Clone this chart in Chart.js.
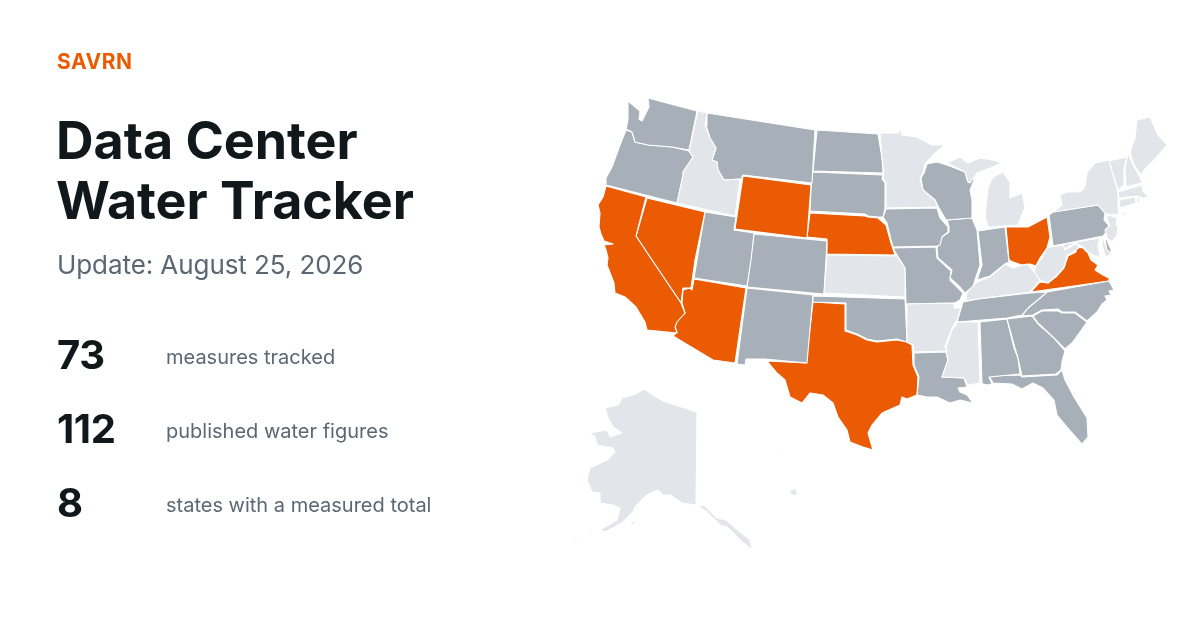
<!DOCTYPE html>
<html>
<head>
<meta charset="utf-8">
<title>Data Center Water Tracker</title>
<script src="https://cdn.jsdelivr.net/npm/chart.js@4"></script>
<style>
  html, body { margin: 0; padding: 0; background: #fff; }
  body { width: 1200px; height: 630px; overflow: hidden; position: relative; font-family: Inter, sans-serif; }
  #map { position: absolute; left: 0; top: 0; }
  .t { position: absolute; left: 57px; white-space: nowrap; }
  .brand { top: 50px; font-size: 21px; line-height: 24px; font-weight: 700; color: #ea5b04; letter-spacing: 0.5px; }
  .title { left: 56px; top: 111px; font-size: 52px; line-height: 60px; font-weight: 700; color: #11181c; letter-spacing: -0.03px; }
  .sub { top: 249px; font-size: 26px; line-height: 32px; color: #5b6773; letter-spacing: -0.08px; }
  .num { font-size: 40px; line-height: 48px; font-weight: 700; color: #11181c; letter-spacing: -0.4px; }
  .lab { left: 166px; font-size: 20px; line-height: 24px; color: #5b6773; }
</style>
</head>
<body>
<canvas id="map" width="1200" height="630"></canvas>
<div class="t brand">SAVRN</div>
<div class="t title">Data Center<br>Water Tracker</div>
<div class="t sub">Update: August 25, 2026</div>
<div class="t num" style="top:331px">73</div>
<div class="t lab" style="top:345px">measures tracked</div>
<div class="t num" style="top:405px">112</div>
<div class="t lab" style="top:419px">published water figures</div>
<div class="t num" style="top:479px">8</div>
<div class="t lab" style="top:493px">states with a measured total</div>
<script>
// state outlines, in map units (x, y)
const WA = [628,101,640,111,639,119,642,121,645,115,649,107,648,98,697,111,689,150,672,147,660,146,648,145,635,142,632,132,626,129,628,120];
const OR = [626,130,632,132,635,142,648,145,672,147,689,151,693,157,683,172,683,176,677,203,606,185,606,178,612,167,620,145];
const CA = [606,186,646,197,636,236,652,260,681,303,685,313,677,322,675,327,677,333,647,330,645,322,636,307,625,297,615,293,614,283,607,265,608,258,606,250,604,245,613,244,604,241,601,234,599,227,600,213,598,205,603,197];
const NV = [647,198,705,212,695,260,691,288,683,288,681,303,652,260,636,236];
const AZ = [694,279,746,288,735,363,713,360,673,336,677,332,675,327,677,320,685,313,682,303,683,290,690,288,692,290];
const UT = [705,212,736,217,734,230,754,233,751,260,747,286,694,278];
const WY = [743,176,811,185,807,238,735,229];
const ID = [698,111,707,113,705,125,710,138,716,148,712,160,717,162,718,170,724,180,740,179,735,216,677,203,683,175,683,172,693,157,689,151];
const MT = [707,113,815,130,812,183,743,175,741,179,724,180,718,170,717,162,712,160,716,148,710,138,706,125];
const CO = [754,234,827,241,824,294,747,287];
const NM = [747,288,813,295,807,363,765,359,746,359,745,365,737,364];
const TX = [813,302,845,304,845,331,857,335,867,340,877,342,897,340,907,342,912,345,913,365,918,377,917,395,907,399,902,397,900,405,882,413,872,425,868,433,873,450,863,447,850,442,847,430,838,417,833,403,823,395,810,393,802,403,790,397,785,380,777,373,767,361,806,363];
const OK = [813,296,905,299,907,342,897,339,877,341,867,339,857,334,846,330,846,303,813,302];
const KS = [827,255,897,256,901,262,905,268,905,297,824,293];
const NE = [810,213,865,216,868,217,878,218,886,225,891,243,895,255,827,254,827,239,807,237];
const SD = [812,172,883,175,882,179,885,183,885,208,883,217,878,217,868,216,865,214,810,211];
const ND = [817,130,878,134,882,158,883,173,813,171];
const MN = [880,133,898,133,900,128,902,135,917,137,932,145,945,145,933,155,925,164,923,173,920,178,923,190,935,200,938,207,886,208,886,183,883,178,884,173,882,158];
const IA = [886,209,937,208,940,218,948,227,948,232,942,237,940,245,937,246,893,247,891,240,887,223,883,217];
const WI = [927,164,937,162,947,165,965,172,968,182,975,178,970,190,972,200,972,218,946,220,939,208,935,200,923,190,921,178,924,173];
const IL = [947,220,972,218,977,230,980,265,975,280,973,287,965,293,960,287,950,278,952,270,938,258,937,248,942,237,949,232,949,227];
const MO = [893,248,936,247,937,258,951,271,950,280,963,293,960,300,955,303,906,304,905,268,897,255];
const AR = [907,304,955,303,954,308,961,308,957,320,952,328,945,347,947,351,914,352,913,345,907,342];
const LA = [914,353,946,352,948,360,942,377,964,378,967,387,958,388,960,392,967,395,973,403,960,400,950,403,937,397,927,397,917,395,919,377,914,365];
const MS = [958,322,978,322,980,383,968,385,964,378,942,377,948,360,946,352,946,347,952,330];
const AL = [980,322,1007,319,1014,348,1018,358,1020,374,989,377,992,384,987,385,983,384,982,383];
const TN = [957,322,963,302,978,299,1030,293,1047,292,1040,298,1028,308,1022,315,1007,318];
const KY = [967,292,977,282,990,277,1005,264,1013,268,1027,264,1034,272,1040,280,1030,292,977,299,966,301];
const IN = [978,231,1005,227,1009,262,1005,264,990,276,977,280,982,265];
const OH = [1006,227,1023,227,1028,227,1047,217,1050,237,1047,248,1040,258,1036,266,1030,264,1022,265,1013,262,1009,260];
const MI = [988,187,993,177,1003,172,1010,182,1010,198,1022,193,1025,207,1018,225,988,227,985,217];
const MI_UP = [947,163,960,157,968,163,980,158,993,160,1002,163,990,168,977,173,970,183,968,182,965,172];
const PA = [1049,215,1053,212,1098,205,1105,213,1104,220,1110,227,1103,236,1053,246];
const WV = [1050,247,1063,245,1065,250,1075,244,1080,247,1073,252,1067,255,1064,267,1057,275,1048,283,1040,280,1034,272,1036,266,1042,258,1047,248];
const VA = [1031,292,1040,282,1048,283,1057,276,1064,268,1068,256,1076,252,1077,247,1083,248,1088,253,1091,260,1098,265,1095,270,1103,275,1109,278,1109,281];
const VA_SHORE = [1109,262,1110,263,1108,268,1107,268];
const MD = [1053,246,1100,238,1098,246,1100,256,1095,256,1088,252,1082,246,1075,243,1065,249,1063,245];
const MD_SHORE = [1103,237,1107,250,1112,253,1106,258,1102,245];
const DE = [1105,238,1107,240,1109,245,1112,252,1107,252];
const NJ = [1108,215,1117,218,1116,225,1118,227,1117,235,1112,242,1107,238,1105,230,1110,225,1107,220];
const NY = [1053,212,1062,205,1060,195,1067,192,1080,192,1085,187,1087,173,1095,163,1109,160,1113,175,1118,192,1118,208,1119,214,1111,215,1105,213,1098,205];
const LI = [1118,217,1132,208,1125,215];
const VT = [1109,161,1127,157,1124,168,1124,185,1118,190,1114,177];
const NH = [1128,153,1133,165,1140,177,1142,183,1126,187,1125,168];
const ME = [1130,152,1135,138,1137,120,1150,117,1158,135,1167,145,1160,153,1152,162,1144,170,1141,175,1133,163];
const MA = [1118,192,1142,185,1143,191,1149,197,1143,198,1137,196,1119,198];
const CT = [1119,200,1135,197,1136,203,1120,208];
const RI = [1137,197,1139,197,1140,202,1137,203];
const NC = [1047,292,1109,281,1114,290,1109,291,1111,295,1105,296,1107,300,1102,304,1097,312,1087,321,1075,312,1062,312,1058,309,1042,310,1033,315,1022,316,1028,308,1040,298];
const SC = [1033,316,1042,311,1058,311,1062,313,1075,313,1087,322,1080,332,1072,343,1065,349,1053,337,1038,323];
const GA = [1007,319,1032,316,1038,324,1053,337,1065,351,1062,362,1061,370,1056,374,1022,376,1018,358,1015,348];
const FL = [989,376,1020,375,1022,377,1057,375,1062,370,1065,380,1074,397,1087,418,1088,437,1082,444,1067,427,1057,415,1054,400,1043,388,1033,383,1022,389,1012,384,993,383];
const AK = [605,408,618,405,622,398,633,395,645,389,650,393,663,401,697,412,696,505,682,503,670,495,663,495,658,490,647,495,635,507,633,512,622,523,605,532,600,530,617,520,620,508,613,505,600,503,600,493,592,492,587,480,590,468,607,460,615,452,613,448,597,445,595,437,590,433,607,430,610,437,622,433,613,427,608,418];
const AK_PANHANDLE = [696,505,705,506,717,518,726,520,738,530,750,540,752,550,740,540,727,527,720,525,707,512];
const AK_ISLES_A = [573,537,580,535,576,538];
const AK_ISLES_B = [588,533,595,531,591,534];
const AK_ISLES_C = [630,523,638,520,633,525];
const AK_ISLES_D = [578,486,582,487,581,489];
const AK_ISLES_E = [568,448,574,453,573,454];
const HI_A = [789,492,795,488,798,495,792,495];
const HI_B = [781,452,783,453,782,455];
const HI_C = [787,464,789,465,788,467];
const HI_D = [795,478,797,479,796,481];

// fill groups
const measuredStates = [CA, NV, AZ, WY, NE, TX, OH, VA, VA_SHORE];
const trackedStates = [WA, OR, MT, ND, SD, UT, CO, NM, OK, IA, WI, IL, MO, IN, TN, NC, SC, GA, AL, FL, LA, PA, DE];
const otherStates = [ID, MN, KS, AR, MS, KY, WV, MI, MI_UP, NY, LI, VT, NH, ME, MA, CT, RI, NJ, MD, MD_SHORE, AK, AK_PANHANDLE, AK_ISLES_A, AK_ISLES_B, AK_ISLES_C, AK_ISLES_D, AK_ISLES_E, HI_A, HI_B, HI_C, HI_D];

function outline(flat, color) {
    const pts = [];
    for (let i = 0; i < flat.length; i += 2) pts.push({ x: flat[i], y: flat[i + 1] });
    pts.push(pts[0]);
    return {
        data: pts,
        showLine: true,
        fill: 'shape',
        backgroundColor: color,
        borderColor: '#ffffff',
        borderWidth: 1.1,
        borderJoinStyle: 'round',
        pointRadius: 0,
        tension: 0
    };
}

const datasets = [
    ...otherStates.map(s => outline(s, '#e2e5e9')),
    ...trackedStates.map(s => outline(s, '#a7afb8')),
    ...measuredStates.map(s => outline(s, '#ea5b04'))
];

new Chart(document.getElementById('map'), {
    type: 'scatter',
    data: { datasets },
    options: {
        responsive: false,
        animation: false,
        events: [],
        layout: { padding: 0 },
        plugins: { legend: { display: false }, tooltip: { enabled: false } },
        scales: {
            x: { type: 'linear', min: 0, max: 1200, display: false },
            y: { type: 'linear', min: 0, max: 630, reverse: true, display: false }
        }
    }
});
</script>
</body>
</html>
